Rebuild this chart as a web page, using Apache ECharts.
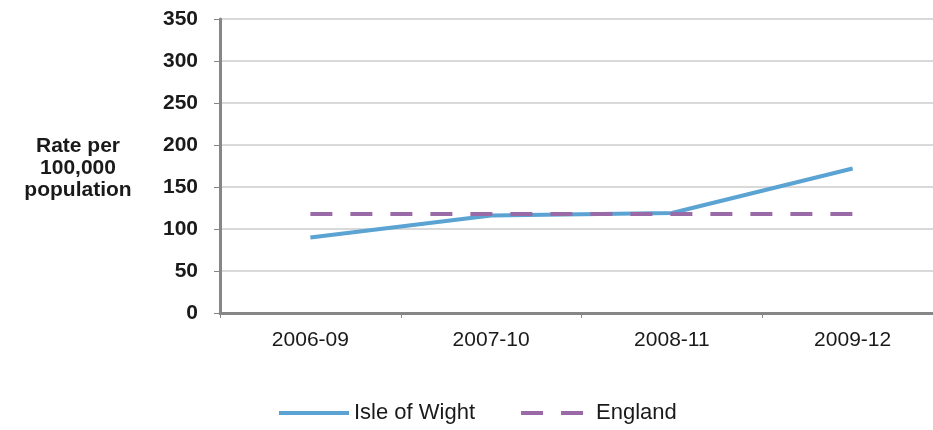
<!DOCTYPE html>
<html>
<head>
<meta charset="utf-8">
<script src="https://cdn.jsdelivr.net/npm/echarts@6/dist/echarts.min.js"></script>
<style>
html,body{margin:0;padding:0;background:#fff;overflow:hidden;width:933px;height:430px;}
#chart{width:952px;height:430px;}
</style>
</head>
<body>
<div id="chart"></div>
<script>
const categories = ['2006-09', '2007-10', '2008-11', '2009-12'];
const isleOfWight = [90, 116, 119, 172];
const england = [118, 118, 118, 118];
const yTicks = [0, 50, 100, 150, 200, 250, 300, 350];
const yAxisTitle = 'Rate per\n100,000\npopulation';

const chart = echarts.init(document.getElementById('chart'), null, {renderer: 'canvas'});
const font = '"Liberation Sans", Arial, sans-serif';
chart.setOption({
  animation: false,
  backgroundColor: '#ffffff',
  grid: {left: 220, width: 723, top: 19, bottom: 117, containLabel: false},
  legend: {
    bottom: 1,
    left: 272,
    itemWidth: 70,
    itemHeight: 14,
    itemGap: 44,
    itemStyle: {opacity: 0},
    lineStyle: {width: 4},
    textStyle: {fontFamily: font, fontSize: 22, color: '#1a1a1a'},
    data: ['Isle of Wight', 'England']
  },
  graphic: [{
    type: 'text',
    x: 78,
    y: 135,
    style: {
      text: yAxisTitle,
      fontFamily: font,
      fontSize: 21,
      fontWeight: 'bold',
      lineHeight: 22,
      align: 'center',
      fill: '#1a1a1a'
    }
  }],
  xAxis: {
    type: 'category',
    data: categories,
    boundaryGap: true,
    axisLine: {lineStyle: {color: '#868686', width: 3}},
    axisTick: {show: true, length: 5, lineStyle: {color: '#868686', width: 1}},
    axisLabel: {fontFamily: font, fontSize: 21, color: '#1a1a1a', margin: 17}
  },
  yAxis: {
    type: 'value',
    min: yTicks[0],
    max: yTicks[yTicks.length - 1],
    interval: 50,
    axisLine: {show: true, lineStyle: {color: '#868686', width: 3}},
    axisTick: {show: true, length: 6, lineStyle: {color: '#868686', width: 1}},
    axisLabel: {fontFamily: font, fontSize: 21, fontWeight: 'bold', color: '#1a1a1a', margin: 22},
    splitLine: {lineStyle: {color: '#d9d9d9', width: 2}}
  },
  series: [{
    name: 'Isle of Wight',
    type: 'line',
    data: isleOfWight,
    symbol: 'none',
    lineStyle: {color: '#5aa3d2', width: 4},
    itemStyle: {color: '#5aa3d2'},
    z: 3
  }, {
    name: 'England',
    type: 'line',
    data: england,
    symbol: 'none',
    lineStyle: {color: '#9a6aa6', width: 4, type: [22, 18]},
    itemStyle: {color: '#9a6aa6'},
    z: 4
  }]
});
</script>
</body>
</html>
